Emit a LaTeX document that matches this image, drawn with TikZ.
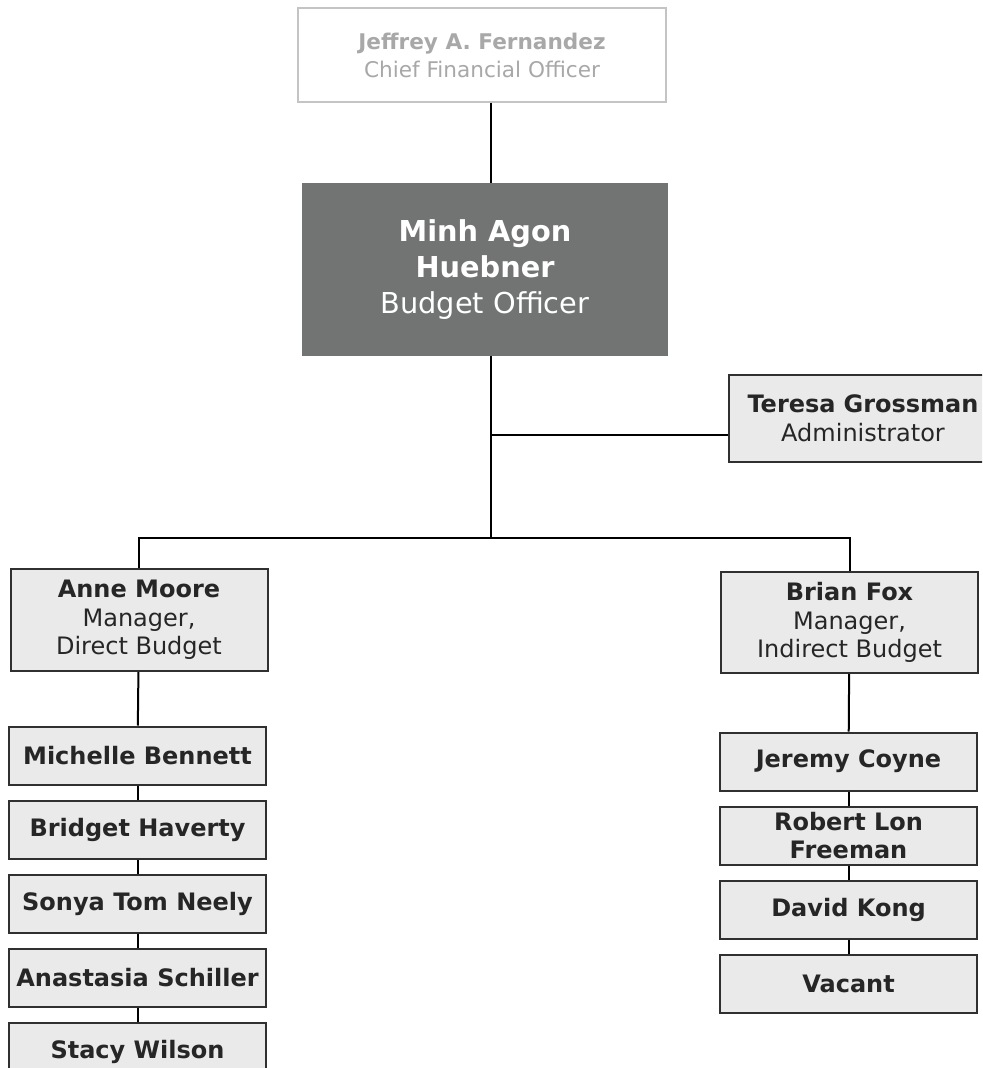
\documentclass[tikz,border=0pt]{standalone}
\usepackage{fontspec}
\setmainfont{DejaVu Sans}
\usetikzlibrary{positioning}
\definecolor{boxgray}{HTML}{EAEAEA}
\definecolor{bossgray}{HTML}{717473}
\definecolor{edgegray}{HTML}{303030}
\definecolor{paleedge}{HTML}{C4C4C4}
\definecolor{paletext}{HTML}{A8A8A8}

\begin{document}
\begin{tikzpicture}[
  x=0.5pt, y=-0.5pt,
  node distance=7pt,
  box/.style={draw=edgegray, line width=1pt, fill=boxgray, minimum width=128.5pt,
              minimum height=29pt, inner sep=0pt, align=center, text=black!85,
              font=\fontsize{12}{14.3}\selectfont},
  staff/.style={box, font=\fontsize{12}{14.3}\selectfont\bfseries},
  cfo/.style={draw=paleedge, line width=1pt, fill=white, minimum width=184pt,
              minimum height=47pt, align=center, text=paletext,
              font=\fontsize{10.8}{14}\selectfont},
  boss/.style={draw=none, fill=bossgray, minimum width=183pt, minimum height=86.5pt,
               align=center, text=white, font=\fontsize{14.4}{18}\selectfont},
  link/.style={line width=1pt, black},
]

\clip (0,0) rectangle (982,1068);

% Top
\node[cfo] (cfo) at (482,55) {\textbf{Jeffrey A. Fernandez}\\Chief Financial Officer};
\node[boss] (boss) at (485,269.5) {\textbf{Minh Agon}\\\textbf{Huebner}\\Budget Officer};

% Administrator (runs off the right edge)
\node[box, minimum width=134pt, minimum height=43.5pt, text width=120pt] (admin) at (863,418.5) {\textbf{Teresa Grossman}\\Administrator};

% Managers
\node[box, minimum height=51pt] (anne) at (139,620) {\textbf{Anne Moore}\\Manager,\\Direct Budget};
\node[box, minimum height=50.5pt] (brian) at (849.5,622.5) {\textbf{Brian Fox}\\Manager,\\Indirect Budget};

% Direct budget staff
\node[staff] (michelle) at (137.5,755.5) {Michelle Bennett};
\node[staff, below=of michelle] (bridget) {Bridget Haverty};
\node[staff, below=of bridget] (sonya) {Sonya Tom Neely};
\node[staff, below=of sonya] (anastasia) {Anastasia Schiller};
\node[staff, below=of anastasia] (stacy) {Stacy Wilson};

% Indirect budget staff
\node[staff] (jeremy) at (848.5,761.5) {Jeremy Coyne};
\node[staff, below=of jeremy] (robert) {Robert Lon\\Freeman};
\node[staff, below=of robert] (david) {David Kong};
\node[staff, below=of david] (vacant) {Vacant};

% Trunk
\coordinate (tee) at (491,435);
\coordinate (hub) at (491,538);
\draw[link] (cfo.south -| hub) -- (boss.north -| hub);
\draw[link] (boss.south -| hub) -- (hub);
\draw[link] (tee) -- (tee -| admin.west);

% hub -> managers
\draw[link] (hub) -| (anne.north);
\draw[link] (hub) -| (brian.north);

% manager -> staff
\draw[link] (anne) -- (michelle);
\draw[link] (michelle) -- (bridget);
\draw[link] (bridget) -- (sonya);
\draw[link] (sonya) -- (anastasia);
\draw[link] (anastasia) -- (stacy);

\draw[link] (brian) -- (jeremy);
\draw[link] (jeremy) -- (robert);
\draw[link] (robert) -- (david);
\draw[link] (david) -- (vacant);

\end{tikzpicture}
\end{document}
